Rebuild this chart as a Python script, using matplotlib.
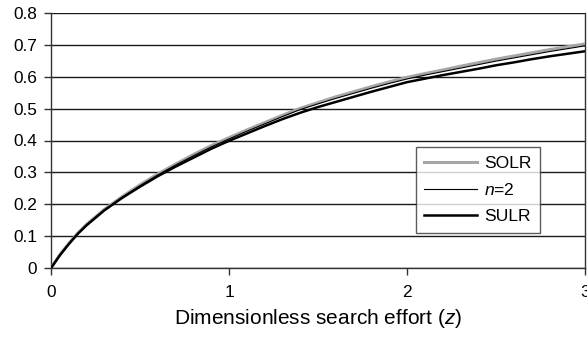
import matplotlib
matplotlib.use("Agg")
import matplotlib.pyplot as plt

plt.rcParams['font.family'] = ['Liberation Sans', 'DejaVu Sans']
plt.rcParams['mathtext.fontset'] = 'custom'
plt.rcParams['mathtext.it'] = 'Liberation Sans:italic'
plt.rcParams['mathtext.rm'] = 'Liberation Sans'

z = [0.0, 0.05, 0.1, 0.15, 0.2, 0.3, 0.4, 0.5, 0.6, 0.7, 0.8, 0.9, 1.0,
     1.1, 1.2, 1.3, 1.4, 1.5, 1.6, 1.7, 1.8, 1.9, 2.0,
     2.1, 2.2, 2.3, 2.4, 2.5, 2.6, 2.7, 2.8, 2.9, 3.0]

n2 = [0.000, 0.041, 0.076, 0.108, 0.136, 0.182, 0.222, 0.258, 0.292, 0.323, 0.352, 0.380, 0.405,
      0.429, 0.452, 0.475, 0.497, 0.515, 0.532, 0.548, 0.564, 0.579, 0.593,
      0.605, 0.616, 0.627, 0.638, 0.649, 0.659, 0.669, 0.679, 0.688, 0.697]

solr = [0.000, 0.042, 0.077, 0.109, 0.137, 0.184, 0.224, 0.261, 0.295, 0.326, 0.356, 0.384, 0.409,
        0.433, 0.456, 0.479, 0.501, 0.519, 0.537, 0.553, 0.569, 0.584, 0.598,
        0.610, 0.621, 0.633, 0.644, 0.655, 0.665, 0.675, 0.685, 0.694, 0.703]

sulr = [0.000, 0.040, 0.075, 0.107, 0.134, 0.181, 0.220, 0.255, 0.288, 0.318, 0.346, 0.374, 0.399,
        0.422, 0.445, 0.467, 0.487, 0.505, 0.521, 0.537, 0.553, 0.568, 0.583,
        0.594, 0.605, 0.615, 0.625, 0.636, 0.645, 0.655, 0.664, 0.672, 0.680]

xticks = [0, 1, 2, 3]
yticks = [0, 0.1, 0.2, 0.3, 0.4, 0.5, 0.6, 0.7, 0.8]
ytick_labels = ['0', '0.1', '0.2', '0.3', '0.4', '0.5', '0.6', '0.7', '0.8']

fig = plt.figure(figsize=(5.87, 3.37), dpi=100)
ax = fig.add_axes([51/587, 1-268/337, (585-51)/587, (268-13)/337])

for y in yticks:
    ax.axhline(y, color='#1a1a1a', lw=1.0, zorder=1)

ax.plot(z, solr, color='#a6a6a6', lw=2.2, label='SOLR', zorder=3)
ax.plot(z, n2, color='black', lw=0.8, label='$n$=2', zorder=4)
ax.plot(z, sulr, color='black', lw=1.8, label='SULR', zorder=5)

ax.set_xlim(0, 3)
ax.set_ylim(0, 0.8)
ax.set_xticks(xticks)
ax.set_xticklabels([str(t) for t in xticks])
ax.set_yticks(yticks)
ax.set_yticklabels(ytick_labels)
ax.tick_params(axis='both', direction='out', length=5, width=1, labelsize=12.4, color='#333333')
ax.tick_params(axis='x', pad=7)
ax.tick_params(axis='y', pad=5)

for s in ['left', 'right', 'bottom']:
    ax.spines[s].set_color('#333333')
    ax.spines[s].set_linewidth(1.0)
ax.spines['top'].set_visible(False)

ax.set_xlabel('Dimensionless search effort ($z$)', fontsize=15, labelpad=5)

leg = ax.legend(loc='lower right', bbox_to_anchor=((540-51)/534, (268-233)/255),
                frameon=True, fancybox=False, fontsize=12.6, handlelength=3.0,
                borderpad=0.5, labelspacing=0.62, handletextpad=0.4, borderaxespad=0)
leg.get_frame().set_edgecolor('#333333')
leg.get_frame().set_linewidth(1.0)

fig.savefig('out.png', dpi=100)
